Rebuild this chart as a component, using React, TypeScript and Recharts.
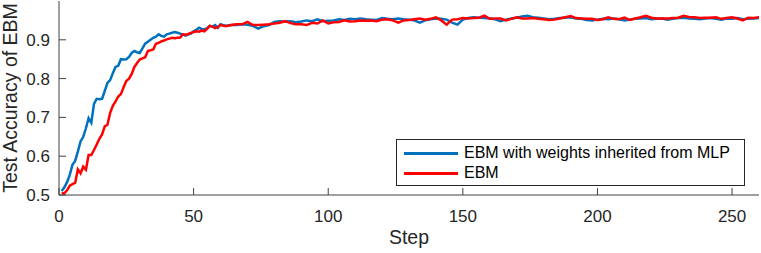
import React from "react";
import {
  LineChart,
  Line,
  XAxis,
  YAxis,
  Legend,
  Label,
} from "recharts";

// training steps (every step early on, every second step later)
const steps = [
  1, 2, 3, 4, 5, 6, 7, 8, 9, 10,
  11, 12, 13, 14, 15, 16, 17, 18, 19, 20,
  21, 22, 23, 24, 25, 26, 27, 28, 29, 30,
  31, 32, 33, 34, 35, 36, 37, 38, 39, 40,
  41, 42, 43, 44, 45, 46, 47, 48, 49, 50,
  51, 52, 53, 54, 55, 56, 57, 58, 59, 60,
  62, 64, 66, 68, 70, 72, 74, 76, 78, 80,
  82, 84, 86, 88, 90, 92, 94, 96, 98, 100,
  102, 104, 106, 108, 110, 112, 114, 116, 118, 120,
  122, 124, 126, 128, 130, 132, 134, 136, 138, 140,
  142, 144, 146, 148, 150, 152, 154, 156, 158, 160,
  162, 164, 166, 168, 170, 172, 174, 176, 178, 180,
  182, 184, 186, 188, 190, 192, 194, 196, 198, 200,
  202, 204, 206, 208, 210, 212, 214, 216, 218, 220,
  222, 224, 226, 228, 230, 232, 234, 236, 238, 240,
  242, 244, 246, 248, 250, 252, 254, 256, 258, 260,
];

// EBM with weights inherited from MLP
const inheritedAcc = [
  0.510, 0.520, 0.533, 0.552, 0.578, 0.588, 0.612, 0.638, 0.650, 0.672,
  0.698, 0.686, 0.735, 0.748, 0.747, 0.748, 0.768, 0.789, 0.796, 0.814,
  0.830, 0.833, 0.850, 0.849, 0.850, 0.856, 0.866, 0.871, 0.868, 0.866,
  0.878, 0.890, 0.895, 0.900, 0.905, 0.908, 0.914, 0.910, 0.908, 0.914,
  0.916, 0.918, 0.920, 0.918, 0.916, 0.914, 0.911, 0.914, 0.916, 0.922,
  0.926, 0.931, 0.928, 0.927, 0.930, 0.936, 0.934, 0.938, 0.931, 0.940,
  0.936, 0.938, 0.938, 0.940, 0.939, 0.936, 0.929, 0.935, 0.938, 0.946,
  0.948, 0.947, 0.948, 0.945, 0.947, 0.950, 0.948, 0.953, 0.948, 0.949,
  0.950, 0.953, 0.951, 0.954, 0.953, 0.955, 0.953, 0.952, 0.951, 0.956,
  0.954, 0.953, 0.955, 0.953, 0.952, 0.950, 0.944, 0.950, 0.953, 0.955,
  0.954, 0.952, 0.944, 0.939, 0.952, 0.956, 0.958, 0.957, 0.956, 0.955,
  0.953, 0.948, 0.952, 0.955, 0.957, 0.960, 0.962, 0.958, 0.957, 0.955,
  0.953, 0.954, 0.956, 0.957, 0.958, 0.955, 0.954, 0.951, 0.950, 0.952,
  0.954, 0.953, 0.955, 0.953, 0.950, 0.952, 0.954, 0.955, 0.956, 0.953,
  0.954, 0.955, 0.952, 0.954, 0.956, 0.957, 0.955, 0.954, 0.953, 0.955,
  0.956, 0.954, 0.952, 0.955, 0.954, 0.956, 0.953, 0.954, 0.955, 0.956,
];

// plain EBM
const ebmAcc = [
  0.504, 0.505, 0.512, 0.524, 0.528, 0.531, 0.566, 0.556, 0.573, 0.565,
  0.603, 0.603, 0.616, 0.630, 0.645, 0.656, 0.677, 0.681, 0.712, 0.730,
  0.741, 0.754, 0.760, 0.778, 0.794, 0.800, 0.812, 0.830, 0.840, 0.849,
  0.852, 0.855, 0.871, 0.873, 0.875, 0.890, 0.892, 0.896, 0.898, 0.901,
  0.903, 0.905, 0.904, 0.905, 0.906, 0.914, 0.913, 0.915, 0.918, 0.920,
  0.922, 0.921, 0.924, 0.922, 0.928, 0.936, 0.934, 0.930, 0.933, 0.938,
  0.935, 0.938, 0.940, 0.940, 0.946, 0.938, 0.938, 0.939, 0.940, 0.942,
  0.944, 0.948, 0.943, 0.940, 0.940, 0.938, 0.944, 0.942, 0.950, 0.942,
  0.945, 0.946, 0.950, 0.947, 0.948, 0.950, 0.949, 0.950, 0.948, 0.952,
  0.953, 0.950, 0.944, 0.950, 0.951, 0.953, 0.955, 0.952, 0.954, 0.958,
  0.950, 0.939, 0.952, 0.953, 0.956, 0.955, 0.956, 0.957, 0.962, 0.954,
  0.955, 0.955, 0.950, 0.954, 0.958, 0.955, 0.955, 0.956, 0.954, 0.953,
  0.951, 0.952, 0.955, 0.958, 0.961, 0.956, 0.955, 0.954, 0.954, 0.951,
  0.953, 0.958, 0.954, 0.953, 0.957, 0.951, 0.955, 0.958, 0.962, 0.957,
  0.955, 0.955, 0.955, 0.956, 0.957, 0.962, 0.959, 0.958, 0.956, 0.957,
  0.957, 0.958, 0.954, 0.956, 0.958, 0.955, 0.950, 0.957, 0.956, 0.958,
];

const xTicks = [0, 50, 100, 150, 200, 250];
const yTicks = [0.5, 0.6, 0.7, 0.8, 0.9];

const seriesNames = ["EBM with weights inherited from MLP", "EBM"];
const BLUE = "#0072BD";
const RED = "#FF0000";
const AXIS = "#404040";
const FONT = "'Liberation Sans', Arial, sans-serif";

const data = steps.map((step, i) => ({
  step,
  inherited: inheritedAcc[i],
  ebm: ebmAcc[i],
}));

const LegendBox = () => (
  <div
    style={{
      width: 347,
      height: 45,
      border: "1px solid #262626",
      background: "#fff",
      fontFamily: FONT,
      fontSize: 16,
      color: "#000",
      boxSizing: "content-box",
    }}
  >
    {[BLUE, RED].map((c, i) => (
      <div
        key={c}
        style={{ display: "flex", alignItems: "center", height: 20, marginTop: i === 0 ? 3 : 0 }}
      >
        <div style={{ width: 54, height: 3, background: c, marginLeft: 7, marginRight: 6 }} />
        <span>{seriesNames[i]}</span>
      </div>
    ))}
  </div>
);

export default function App() {
  return (
    <div style={{ position: "absolute", left: 0, top: 0, background: "#fff" }}>
      <LineChart
        width={761}
        height={253}
        data={data}
        margin={{ top: 1, right: 2, bottom: 0, left: 0 }}
      >
        <XAxis
          xAxisId="b"
          dataKey="step"
          type="number"
          domain={[0, 260]}
          ticks={xTicks}
          height={58}
          tickSize={-7}
          tickMargin={22}
          stroke={AXIS}
          tick={{ fill: "#262626", fontSize: 17, fontFamily: FONT }}
          allowDataOverflow
        >
          <Label
            content={({ viewBox }: any) => (
              <text
                x={viewBox.x + viewBox.width / 2}
                y={viewBox.y + 49}
                textAnchor="middle"
                fill="#262626"
                fontSize={19.5}
                fontFamily={FONT}
              >
                Step
              </text>
            )}
          />
        </XAxis>
        <XAxis
          xAxisId="t"
          orientation="top"
          dataKey="step"
          type="number"
          domain={[0, 260]}
          ticks={xTicks}
          height={0}
          tickSize={-7}
          tickFormatter={() => ""}
          stroke={AXIS}
          allowDataOverflow
        />
        <YAxis
          yAxisId="l"
          type="number"
          domain={[0.5, 1]}
          ticks={yTicks}
          width={59}
          tickSize={-7}
          tickMargin={16}
          stroke={AXIS}
          tick={{ fill: "#262626", fontSize: 17, fontFamily: FONT }}
          tickFormatter={(v: number) => v.toFixed(1)}
          allowDataOverflow
        >
          <Label
            content={({ viewBox }: any) => {
              const cx = viewBox.x + 10;
              const cy = viewBox.y + viewBox.height / 2;
              return (
                <text
                  x={cx}
                  y={cy}
                  transform={`rotate(-90 ${cx} ${cy})`}
                  textAnchor="middle"
                  dominantBaseline="central"
                  fill="#262626"
                  fontSize={19.5}
                  fontFamily={FONT}
                >
                  Test Accuracy of EBM
                </text>
              );
            }}
          />
        </YAxis>
        <YAxis
          yAxisId="r"
          orientation="right"
          type="number"
          domain={[0.5, 1]}
          ticks={yTicks}
          width={0}
          tickSize={-7}
          tickFormatter={() => ""}
          stroke={AXIS}
          allowDataOverflow
        />
        <Line
          xAxisId="b"
          yAxisId="l"
          type="linear"
          dataKey="inherited"
          name={seriesNames[0]}
          stroke={BLUE}
          strokeWidth={2.5}
          dot={false}
          isAnimationActive={false}
        />
        <Line
          xAxisId="b"
          yAxisId="l"
          type="linear"
          dataKey="ebm"
          name={seriesNames[1]}
          stroke={RED}
          strokeWidth={2.5}
          dot={false}
          isAnimationActive={false}
        />
        <Legend
          layout="vertical"
          align="center"
          verticalAlign="middle"
          content={() => <LegendBox />}
          wrapperStyle={{ left: 396, top: 139, width: 349 }}
        />
      </LineChart>
    </div>
  );
}
